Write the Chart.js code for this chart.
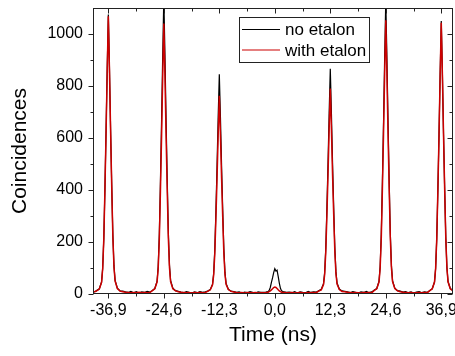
<!DOCTYPE html>
<html>
<head>
<meta charset="utf-8">
<script src="https://cdn.jsdelivr.net/npm/chart.js@4/dist/chart.umd.min.js"></script>
<style>
  html, body { margin: 0; padding: 0; background: #fff; }
  #wrap { width: 455px; height: 356px; }
</style>
</head>
<body>
<div id="wrap"><canvas id="chart" width="455" height="356"></canvas></div>
<script>
/*************************************************
 * DATA
 *************************************************/
const xTicks = [-36.9, -24.6, -12.3, 0, 12.3, 24.6, 36.9];
const xMinorTicks = [-30.75, -18.45, -6.15, 6.15, 18.45, 30.75];
const yTicks = [0, 200, 400, 600, 800, 1000];
const yMinorTicks = [100, 300, 500, 700, 900];

// time axis (ns)
const timeNs = [
  -40.3, -39.9,
  -39.5, -38.9, -38.4, -38.15, -37.9, -37.65, -37.4, -37.15, -36.9, -36.65, -36.4, -36.15, -35.9, -35.65, -35.4, -34.9, -34.3,
  -33.7, -33.1, -32.5, -31.9, -31.3, -30.7, -30.1, -29.5, -28.9, -28.3, -27.7,
  -27.2, -26.6, -26.1, -25.85, -25.6, -25.35, -25.1, -24.85, -24.6, -24.35, -24.1, -23.85, -23.6, -23.35, -23.1, -22.6, -22.0,
  -21.4, -20.8, -20.2, -19.6, -19.0, -18.4, -17.8, -17.2, -16.6, -16.0, -15.4,
  -14.9, -14.3, -13.8, -13.55, -13.3, -13.05, -12.8, -12.55, -12.3, -12.05, -11.8, -11.55, -11.3, -11.05, -10.8, -10.3, -9.7,
  -9.1, -8.5, -7.9, -7.3, -6.7, -6.1, -5.5, -4.9, -4.3, -3.7, -3.1,
  -2.6, -2.0, -1.5, -1.25, -1.0, -0.75, -0.5, -0.25, 0, 0.25, 0.5, 0.75, 1.0, 1.25, 1.5, 2.0, 2.6,
  3.2, 3.8, 4.4, 5.0, 5.6, 6.2, 6.8, 7.4, 8.0, 8.6, 9.2,
  9.7, 10.3, 10.8, 11.05, 11.3, 11.55, 11.8, 12.05, 12.3, 12.55, 12.8, 13.05, 13.3, 13.55, 13.8, 14.3, 14.9,
  15.5, 16.1, 16.7, 17.3, 17.9, 18.5, 19.1, 19.7, 20.3, 20.9, 21.5,
  22.0, 22.6, 23.1, 23.35, 23.6, 23.85, 24.1, 24.35, 24.6, 24.85, 25.1, 25.35, 25.6, 25.85, 26.1, 26.6, 27.2,
  27.8, 28.4, 29.0, 29.6, 30.2, 30.8, 31.4, 32.0, 32.6, 33.2, 33.8,
  34.3, 34.9, 35.4, 35.65, 35.9, 36.15, 36.4, 36.65, 36.9, 37.15, 37.4, 37.65, 37.9, 38.15, 38.4, 38.9, 39.5
];

// coincidences, no etalon (black)
const noEtalon = [
  8, 9,
  13, 20, 46, 100, 216, 410, 632, 868, 1075, 870, 635, 420, 228, 108, 52, 22, 12,
  11, 8, 6, 10, 5, 9, 4, 8, 6, 10, 7,
  13, 21, 49, 106, 230, 436, 668, 915, 1140, 920, 670, 444, 238, 112, 52, 22, 13,
  10, 7, 5, 9, 6, 4, 8, 5, 9, 6, 8,
  11, 17, 38, 80, 172, 324, 497, 683, 845, 680, 494, 328, 176, 84, 41, 18, 11,
  9, 6, 8, 4, 7, 5, 9, 6, 4, 8, 6,
  6, 7, 9, 14, 25, 45, 62, 82, 97, 88, 92, 68, 42, 22, 12, 8, 6,
  7, 5, 9, 4, 8, 6, 5, 10, 6, 8, 7,
  12, 18, 40, 82, 177, 333, 508, 697, 866, 695, 505, 336, 181, 86, 42, 19, 12,
  10, 8, 5, 9, 6, 4, 8, 6, 10, 5, 8,
  14, 21, 49, 106, 230, 433, 661, 908, 1130, 910, 663, 438, 235, 110, 51, 22, 13,
  11, 7, 9, 5, 8, 4, 7, 9, 5, 8, 6,
  13, 20, 46, 99, 214, 403, 613, 846, 1050, 848, 616, 408, 219, 103, 48, 21, 13
];

// coincidences, with etalon (red)
const withEtalon = [
  10, 9,
  12, 19, 45, 98, 214, 406, 626, 858, 1068, 860, 628, 412, 222, 104, 50, 21, 11,
  9, 7, 6, 5, 6, 5, 7, 5, 6, 5, 6,
  12, 20, 46, 97, 210, 398, 606, 834, 1040, 838, 610, 404, 216, 102, 48, 20, 12,
  9, 7, 6, 5, 6, 4, 6, 5, 6, 5, 6,
  10, 16, 35, 73, 156, 294, 448, 614, 762, 612, 446, 297, 159, 76, 37, 17, 10,
  8, 6, 5, 6, 4, 6, 5, 5, 6, 4, 5,
  5, 5, 7, 9, 12, 16, 20, 25, 27, 25, 21, 16, 12, 9, 7, 6, 5,
  5, 6, 4, 5, 6, 5, 4, 6, 5, 6, 5,
  11, 16, 36, 75, 162, 304, 462, 636, 790, 634, 460, 307, 166, 78, 38, 17, 10,
  9, 7, 6, 5, 6, 5, 4, 6, 5, 6, 5,
  13, 20, 46, 99, 214, 404, 615, 846, 1053, 848, 618, 408, 219, 102, 48, 21, 12,
  9, 7, 6, 5, 6, 4, 5, 6, 5, 6, 5,
  12, 20, 46, 98, 213, 401, 610, 840, 1043, 842, 612, 404, 216, 101, 47, 20, 12
];

const FONT = "'Liberation Sans', Arial, sans-serif";
const AXIS_COLOR = "#222";

/*************************************************
 * FRAME + TICKS + LEGEND PLUGIN
 *************************************************/
const framePlugin = {
  id: "frame",
  afterDraw(chart) {
    const { ctx, chartArea: a, scales: { x, y } } = chart;
    const L = Math.round(a.left) + 0.5, R = Math.round(a.right) - 0.5;
    const T = Math.round(a.top) + 0.5, B = Math.round(a.bottom) - 0.5;

    ctx.save();
    ctx.strokeStyle = AXIS_COLOR;
    ctx.lineWidth = 1;
    ctx.strokeRect(L, T, R - L, B - T);

    ctx.beginPath();
    const xt = (v, len) => {
      const px = Math.round(x.getPixelForValue(v)) + 0.5;
      ctx.moveTo(px, B); ctx.lineTo(px, B + len);      // bottom, outward
      ctx.moveTo(px, T); ctx.lineTo(px, T + len);      // top, inward
    };
    const yt = (v, len) => {
      const py = Math.round(y.getPixelForValue(v)) + 0.5;
      ctx.moveTo(L, py); ctx.lineTo(L - len, py);      // left, outward
      ctx.moveTo(R, py); ctx.lineTo(R - len, py);      // right, inward
    };
    xTicks.forEach(v => xt(v, 5));
    xMinorTicks.forEach(v => xt(v, 3));
    yTicks.forEach(v => yt(v, 5));
    yMinorTicks.forEach(v => yt(v, 3));
    ctx.stroke();

    // legend
    const bx = 239.5, by = 17.5, bw = 130, bh = 45;
    ctx.fillStyle = "#fff";
    ctx.fillRect(bx, by, bw, bh);
    ctx.strokeStyle = "#222";
    ctx.strokeRect(bx, by, bw, bh);

    const rows = [chart.data.datasets[1], chart.data.datasets[0]];
    ctx.font = "17px " + FONT;
    ctx.textBaseline = "middle";
    rows.forEach((ds, i) => {
      const ry = 29.5 + i * 20.5;
      ctx.strokeStyle = ds.borderColor;
      ctx.lineWidth = 1.2;
      ctx.beginPath();
      ctx.moveTo(242, ry); ctx.lineTo(280, ry);
      ctx.stroke();
      ctx.fillStyle = "#000";
      ctx.fillText(ds.label, 285, ry + 1);
    });
    ctx.restore();
  }
};

/*************************************************
 * CHART
 *************************************************/
const toPoints = (vals) => timeNs.map((t, i) => ({ x: t, y: vals[i] }));

new Chart(document.getElementById("chart"), {
  type: "line",
  data: {
    datasets: [
      {
        label: "with etalon",
        data: toPoints(withEtalon),
        borderColor: "#cc0000",
        borderWidth: 1.5,
        pointRadius: 0,
        tension: 0
      },
      {
        label: "no etalon",
        data: toPoints(noEtalon),
        borderColor: "#000",
        borderWidth: 1.2,
        pointRadius: 0,
        tension: 0
      }
    ]
  },
  options: {
    responsive: false,
    animation: false,
    layout: { padding: { left: 0, top: 8, right: 2, bottom: 0 } },
    plugins: { legend: { display: false }, tooltip: { enabled: false } },
    scales: {
      x: {
        type: "linear",
        min: -40.3,
        max: 39.5,
        afterBuildTicks: s => { s.ticks = xTicks.map(v => ({ value: v })); },
        afterFit: s => { s.height = 62; s.paddingLeft = 0; s.paddingRight = 0; },
        grid: { display: false, drawTicks: false },
        border: { display: false },
        ticks: {
          autoSkip: false,
          maxRotation: 0,
          padding: 7,
          color: "#000",
          font: { family: FONT, size: 16 },
          callback: v => v.toFixed(1).replace(".", ",")
        },
        title: {
          display: true,
          text: "Time (ns)",
          color: "#000",
          font: { family: FONT, size: 21 },
          padding: { top: 0, bottom: 8 }
        }
      },
      y: {
        min: 0,
        max: 1100,
        afterBuildTicks: s => { s.ticks = yTicks.map(v => ({ value: v })); },
        afterFit: s => { s.width = 93; s.paddingTop = 0; s.paddingBottom = 0; },
        grid: { display: false, drawTicks: false },
        border: { display: false },
        ticks: {
          padding: 10,
          color: "#000",
          font: { family: FONT, size: 16 },
          callback: v => String(v)
        },
        title: {
          display: true,
          text: "Coincidences",
          color: "#000",
          font: { family: FONT, size: 21 },
          padding: { top: 8, bottom: 0 }
        }
      }
    }
  },
  plugins: [framePlugin]
});
</script>
</body>
</html>
